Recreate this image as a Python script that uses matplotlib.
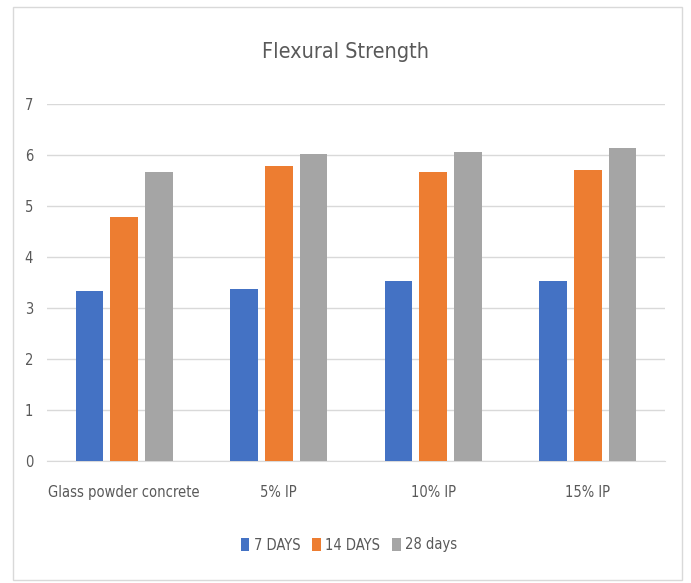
import matplotlib
matplotlib.use("Agg")
import matplotlib.pyplot as plt
import numpy as np
from matplotlib.patches import Rectangle

categories = ["Glass powder concrete", "5% IP", "10% IP", "15% IP"]
series_names = ["7 DAYS", "14 DAYS", "28 days"]
days7 = [3.33, 3.37, 3.53, 3.53]
days14 = [4.79, 5.78, 5.66, 5.70]
days28 = [5.66, 6.02, 6.06, 6.14]
colors = ["#4472C4", "#ED7D31", "#A5A5A5"]

plt.rcParams['font.family'] = ['DejaVu Sans']
plt.rcParams['font.stretch'] = 'condensed'

fig = plt.figure(figsize=(6.91, 5.83), dpi=100)
fig.patches.append(Rectangle((13/691, 1-580/583), 669/691, 573/583, transform=fig.transFigure,
                             fill=False, edgecolor="#D9D9D9", linewidth=1))
ax = fig.add_axes([47/691, 1-461/583, 618/691, 357/583])

x = np.arange(len(categories))
w = 0.18
off = 0.225
for i, (vals, name) in enumerate(zip([days7, days14, days28], series_names)):
    ax.bar(x + (i - 1) * off, vals, width=w, color=colors[i], label=name, zorder=3)

ax.set_xlim(-0.5, len(categories) - 0.5)
ax.set_ylim(0, 7)
ax.set_yticks(range(0, 8))
ax.grid(axis='y', color="#D9D9D9", linewidth=1, zorder=0)
for s in ["top", "right", "left"]:
    ax.spines[s].set_visible(False)
ax.spines["bottom"].set_color("#D9D9D9")
ax.tick_params(axis='both', length=0, colors="#595959", labelsize=10.5)
ax.tick_params(axis='x', pad=17)
ax.tick_params(axis='y', pad=10)
ax.set_xticks(x)
ax.set_xticklabels(categories)

fig.text(0.5, 1-52/583, "Flexural Strength", ha='center', va='center', fontsize=15.5, color="#595959")

fig.legend(loc='center', bbox_to_anchor=(0.505, 1-545/583), ncol=3, frameon=False,
           handlelength=0.6, handleheight=0.9, handletextpad=0.3, columnspacing=0.8,
           fontsize=10.5, labelcolor="#595959")

fig.savefig("out.png", dpi=100)
